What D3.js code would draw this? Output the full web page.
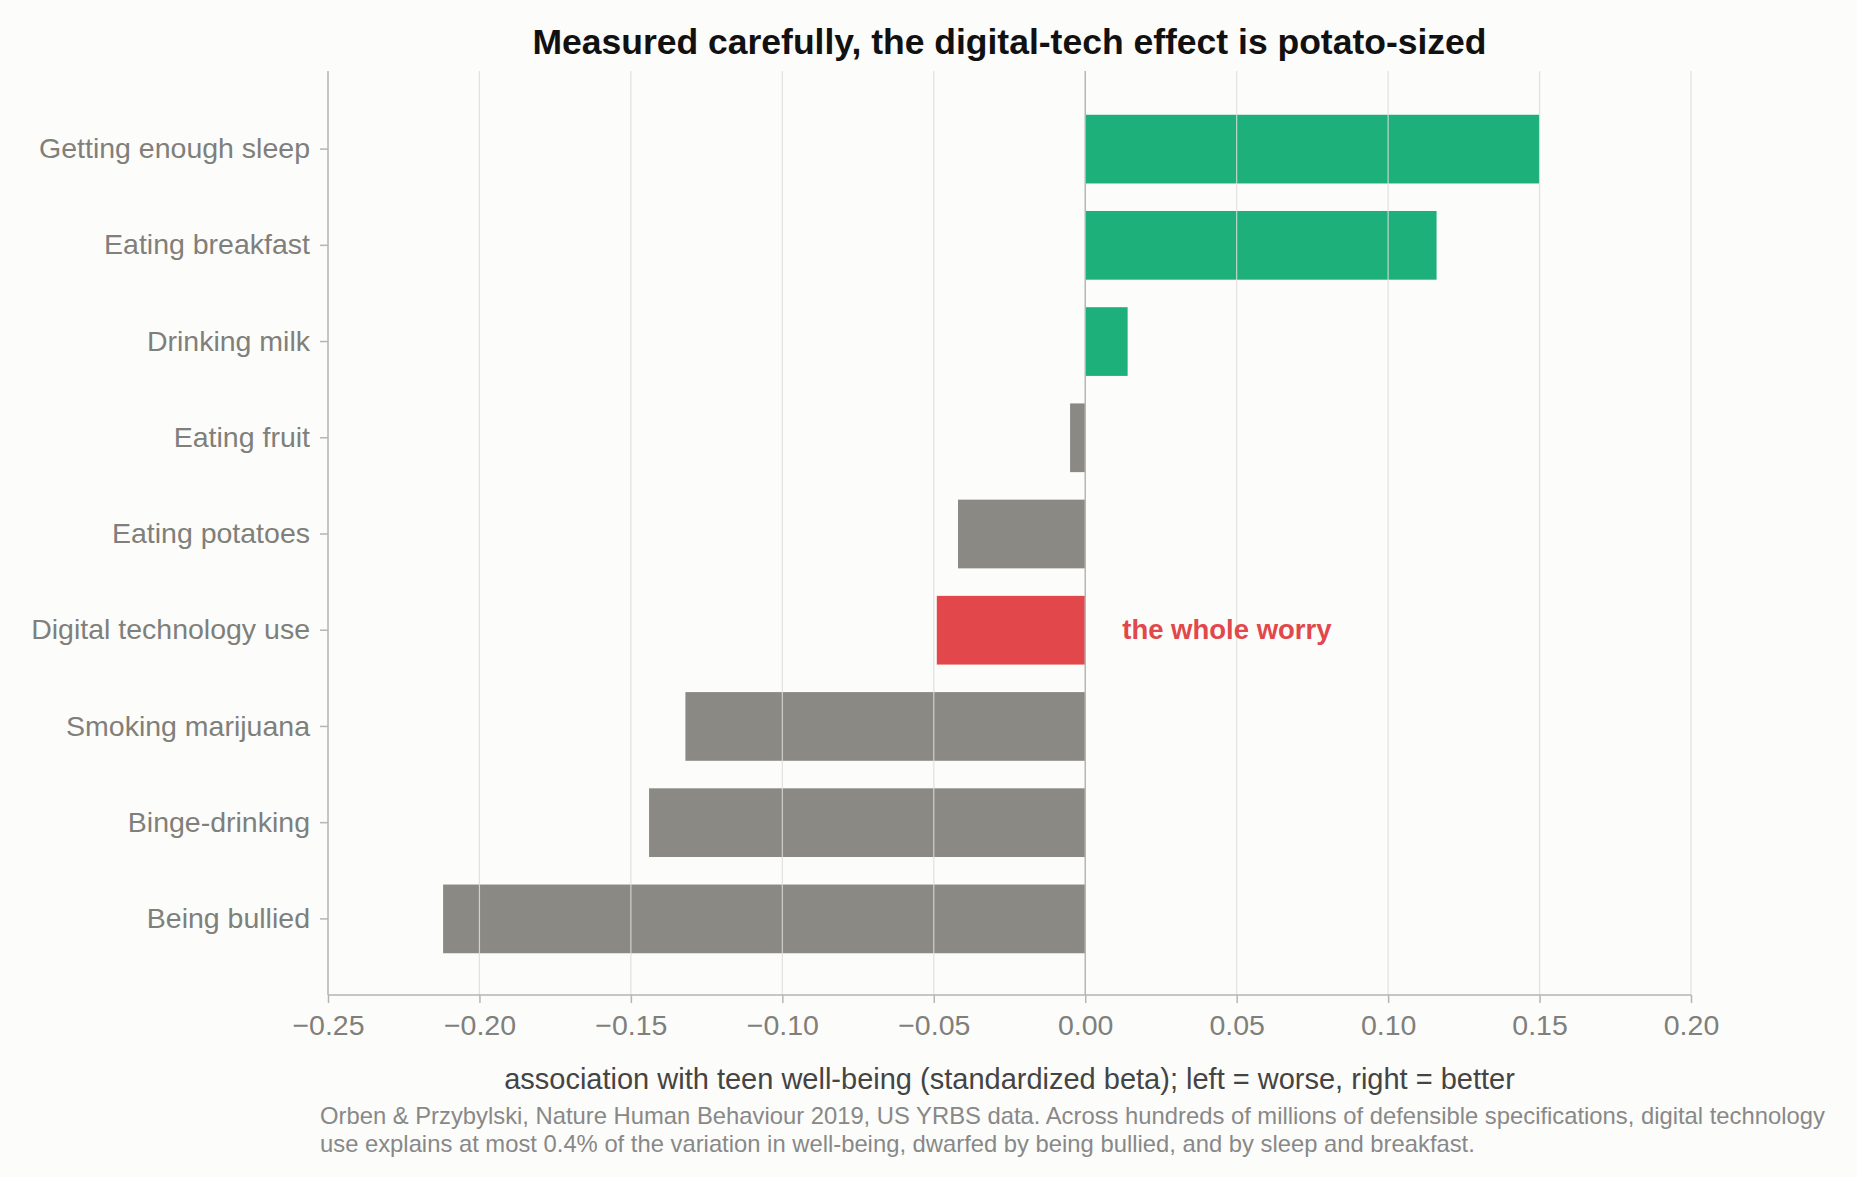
<!DOCTYPE html>
<html><head><meta charset="utf-8">
<script src="https://cdn.jsdelivr.net/npm/d3@7"></script>
<style>body{margin:0;background:#fcfcfa;font-family:"Liberation Sans",Arial,sans-serif}</style>
</head><body><svg id="c" width="1857" height="1177"></svg>
<script>
var categories = ["Getting enough sleep","Eating breakfast","Drinking milk","Eating fruit","Eating potatoes","Digital technology use","Smoking marijuana","Binge-drinking","Being bullied"];
var values = [0.150, 0.116, 0.014, -0.005, -0.042, -0.049, -0.132, -0.144, -0.212];
var xTicks = [-0.25,-0.20,-0.15,-0.10,-0.05,0,0.05,0.10,0.15,0.20];
var highlight = "Digital technology use";

var svg = d3.select("#c");
var m = {l:328, r:1691, t:71, b:995};
var x = d3.scaleLinear().domain([-0.25,0.20]).range([m.l,m.r]);
var y = d3.scaleBand().domain(categories).range([101,967]).paddingInner(0.286).paddingOuter(0.143);

svg.append("rect").attr("width",1857).attr("height",1177).attr("fill","#fcfcfa");

svg.selectAll(".bar").data(categories).enter().append("rect")
  .attr("x",function(d,i){return x(Math.min(0,values[i]));})
  .attr("width",function(d,i){return Math.abs(x(values[i])-x(0));})
  .attr("y",function(d){return y(d);}).attr("height",y.bandwidth())
  .attr("fill",function(d,i){return d===highlight?"#e2474b":(values[i]>0?"#1db07b":"#8a8983");});

svg.selectAll(".grid").data(xTicks.filter(function(t){return t!==0&&t!==-0.25;})).enter().append("line")
  .attr("x1",x).attr("x2",x).attr("y1",m.t).attr("y2",m.b)
  .attr("stroke","#dddddb").attr("stroke-width",1.2).attr("opacity",0.85);
svg.append("line").attr("x1",x(0)).attr("x2",x(0)).attr("y1",m.t).attr("y2",m.b).attr("stroke","#b5b5b2").attr("stroke-width",1.5);

var fmt = function(t){return (t<0?"\u2212":"")+Math.abs(t).toFixed(2);};
var xa = svg.append("g").attr("transform","translate(0,"+m.b+")")
  .call(d3.axisBottom(x).tickValues(xTicks).tickFormat(fmt).tickSizeOuter(0).tickSize(8).tickPadding(12));
var ya = svg.append("g").attr("transform","translate("+m.l+",0)")
  .call(d3.axisLeft(y).tickSizeOuter(0).tickSize(8).tickPadding(10));
[xa,ya].forEach(function(a){
  a.select(".domain").attr("stroke","#b5b5b2").attr("stroke-width",1.5);
  a.selectAll(".tick line").attr("stroke","#b5b5b2").attr("stroke-width",1.5);
  a.selectAll("text").attr("fill","#7f7f7b").style("font-size","28.5px").style("font-family","inherit");
});
ya.select(".domain").attr("d","M0,"+m.t+"V"+m.b);
xa.select(".domain").attr("d","M"+m.l+",0H"+m.r);

svg.append("text").attr("x",x(0)+37).attr("y",y(highlight)+y.bandwidth()/2+9)
  .attr("fill","#e2474b").attr("font-weight","bold").attr("font-size","27.5px").text("the whole worry");

svg.append("text").attr("x",(m.l+m.r)/2).attr("y",54).attr("text-anchor","middle")
  .attr("font-weight","bold").attr("font-size","35.5px").attr("fill","#111").text("Measured carefully, the digital-tech effect is potato-sized");
svg.append("text").attr("x",(m.l+m.r)/2).attr("y",1089).attr("text-anchor","middle")
  .attr("font-size","29px").attr("fill","#444").text("association with teen well-being (standardized beta); left = worse, right = better");
svg.append("text").attr("x",320).attr("y",1124).attr("font-size","23.8px").attr("fill","#888")
  .text("Orben & Przybylski, Nature Human Behaviour 2019, US YRBS data. Across hundreds of millions of defensible specifications, digital technology");
svg.append("text").attr("x",320).attr("y",1152).attr("font-size","23.8px").attr("fill","#888")
  .text("use explains at most 0.4% of the variation in well-being, dwarfed by being bullied, and by sleep and breakfast.");
</script></body></html>
